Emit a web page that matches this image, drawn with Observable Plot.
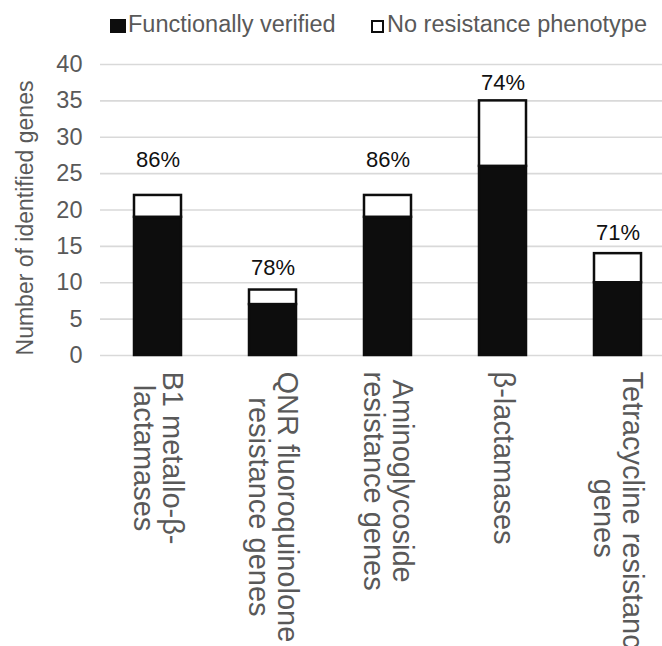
<!DOCTYPE html>
<html>
<head>
<meta charset="utf-8">
<script src="https://cdn.jsdelivr.net/npm/d3@7"></script>
<script src="https://cdn.jsdelivr.net/npm/@observablehq/plot@0.6"></script>
<style>
  body { margin: 0; background: #fff; font-family: "Liberation Sans", Arial, sans-serif; }
  #legend { position: relative; height: 44px; width: 662px; }
  #legend .sw { position: absolute; box-sizing: border-box; }
  #legend .lt { position: absolute; font-size: 23.5px; line-height: 23px; color: #595959; white-space: nowrap; top: 12.5px; }
</style>
</head>
<body>
<div id="legend"></div>
<div id="chart"></div>
<script>
// ---- data ----
const categories = [
  "B1 metallo-β-\nlactamases",
  "QNR fluoroquinolone\nresistance genes",
  "Aminoglycoside\nresistance genes",
  "β-lactamases",
  "Tetracycline resistance\ngenes"
];
const verified = [19, 7, 19, 26, 10];
const noPhenotype = [3, 2, 3, 9, 4];
const percentLabels = ["86%", "78%", "86%", "74%", "71%"];
const labelHeights = [26.9, 12.0, 26.9, 37.5, 16.9];
const yTicks = [0, 5, 10, 15, 20, 25, 30, 35, 40];
const series = ["Functionally verified", "No resistance phenotype"];
const yTitle = "Number of identified genes";

const data = categories.map((c, i) => ({
  category: c,
  verified: verified[i],
  total: verified[i] + noPhenotype[i],
  pct: percentLabels[i],
  labelAt: labelHeights[i]
}));

// ---- legend ----
const legend = document.getElementById("legend");
legend.innerHTML = `
  <span class="sw" style="left:110px;top:19px;width:16px;height:14px;background:#0d0d0d"></span>
  <span class="lt" style="left:128px">${series[0]}</span>
  <span class="sw" style="left:371px;top:20px;width:13px;height:13px;background:#fff;border:2.5px solid #0d0d0d"></span>
  <span class="lt" style="left:387px">${series[1]}</span>`;

// ---- chart ----
const chart = Plot.plot({
  width: 662,
  height: 602,
  marginLeft: 100,
  marginRight: 0,
  marginTop: 20,
  marginBottom: 291,
  style: { fontFamily: '"Liberation Sans", Arial, sans-serif', fontSize: "23px", color: "#595959", background: "white", overflow: "visible" },
  x: { domain: categories, range: [65, 710], padding: 0.592, axis: null },
  y: { domain: [0, 40], axis: null },
  marks: [
    Plot.ruleY(yTicks, { stroke: "#d9d9d9", strokeWidth: 1.6 }),
    Plot.text(yTicks, { y: d => d, text: d => String(d), frameAnchor: "left", dx: -18, textAnchor: "end",
      lineAnchor: "middle", fontSize: 23.5, fill: "#595959" }),
    Plot.barY(data, { x: "category", y: "verified", fill: "#0d0d0d", stroke: "#0d0d0d", strokeWidth: 2.5 }),
    Plot.barY(data, { x: "category", y1: "verified", y2: "total", fill: "white", stroke: "#0d0d0d", strokeWidth: 2.5 }),
    Plot.text(data, { x: "category", y: "labelAt", text: "pct", fill: "#111", fontSize: 22 }),
    Plot.text(data, { x: "category", frameAnchor: "bottom", text: "category", rotate: 90,
      textAnchor: "middle", lineAnchor: "middle", lineHeight: 1.0, fontSize: 29, fill: "#595959" }),
    Plot.text([yTitle], { frameAnchor: "left", text: d => d, rotate: -90, dx: -75, dy: 8,
      fontSize: 23, fill: "#595959", lineAnchor: "middle", textAnchor: "middle" })
  ]
});
document.getElementById("chart").append(chart);

// top-align the rotated category label blocks (lines stay centred on each other)
d3.select(chart).selectAll('g[font-size="29"] text').each(function () {
  const tspans = [...this.querySelectorAll("tspan")];
  const els = tspans.length ? tspans : [this];
  let L = 0;
  els.forEach(e => { L = Math.max(L, e.getComputedTextLength()); });
  const off = 16 + L / 2;
  els.forEach(e => e.setAttribute("x", off));
});
</script>
</body>
</html>
